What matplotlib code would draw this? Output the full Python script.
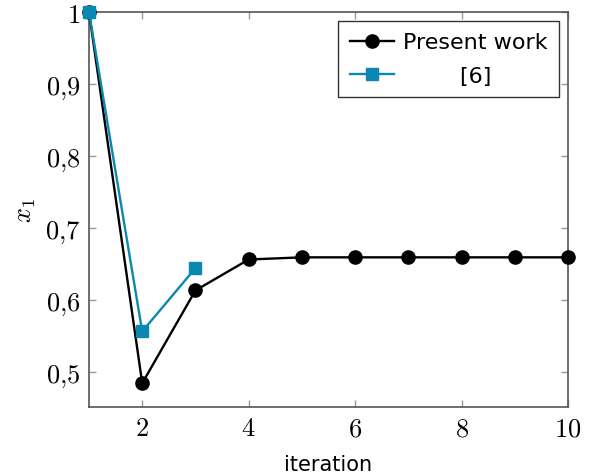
import matplotlib
matplotlib.use("Agg")
from matplotlib import pyplot as plt
from matplotlib.ticker import FuncFormatter

# Data
iteration_present = [1, 2, 3, 4, 5, 6, 7, 8, 9, 10]
x1_present = [1.0, 0.484, 0.613, 0.656, 0.659, 0.659, 0.659, 0.659, 0.659, 0.659]

iteration_ref = [1, 2, 3]
x1_ref = [1.0, 0.556, 0.644]

x_ticks = [2, 4, 6, 8, 10]
y_ticks = [0.5, 0.6, 0.7, 0.8, 0.9, 1.0]

plt.rcParams['mathtext.fontset'] = 'cm'

fig = plt.figure(figsize=(5.89, 4.77), dpi=100)
ax = fig.add_axes([0.1511, 0.1447, 0.8132, 0.8280])

ax.plot(iteration_present, x1_present, color='black', lw=1.7, marker='o',
        markersize=9.5, label='Present work', zorder=3, clip_on=False)
# label padded so it sits centred under "Present work", as in the original
ax.plot(iteration_ref, x1_ref, color='#0a88b2', lw=1.7, marker='s',
        markersize=9, label='        [6]', zorder=4, clip_on=False)

ax.set_xlim(1, 10)
ax.set_ylim(0.451, 1.0)
ax.set_xticks(x_ticks)
ax.set_yticks(y_ticks)


def fmt_y(v, pos):
    if abs(v - 1.0) < 1e-9:
        return r'$1$'
    return r'$0{,}%d$' % round(v * 10 % 10)


ax.xaxis.set_major_formatter(FuncFormatter(lambda v, p: r'$%d$' % v))
ax.yaxis.set_major_formatter(FuncFormatter(fmt_y))

ax.tick_params(direction='in', length=5, width=1, color='#999999',
               top=True, right=True, labelsize=19, pad=6)
for s in ax.spines.values():
    s.set_color('#555555')
    s.set_linewidth(1.2)

ax.set_xlabel('iteration', fontsize=15, family='DejaVu Sans', labelpad=9)
ax.set_ylabel(r'$x_1$', fontsize=19, labelpad=5)

leg = ax.legend(loc='upper right', prop={'family': 'DejaVu Sans', 'size': 16},
                frameon=True, fancybox=False, edgecolor='black',
                borderaxespad=0.42, handlelength=2.0, handletextpad=0.4,
                labelspacing=0.62, borderpad=0.5)
leg.get_frame().set_linewidth(1.0)

fig.savefig('out.png', dpi=100)
